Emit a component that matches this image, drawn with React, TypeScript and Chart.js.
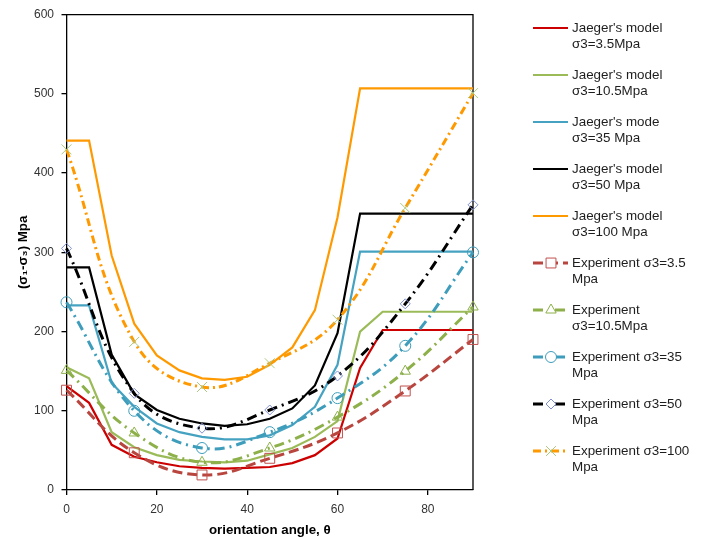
import React, { useEffect, useRef } from 'react';
import { Chart, registerables } from 'chart.js';

Chart.register(...registerables);

// ---------- data ----------
const MODEL_ANGLES = [0, 5, 10, 15, 20, 25, 30, 35, 40, 45, 50, 55, 60, 65, 70, 75, 80, 85, 90];
const JAEGER_3_5 = [131, 110, 57, 42, 35, 30, 28, 27, 28, 29, 34, 44, 65, 154, 202, 202, 202, 202, 202];
const JAEGER_10_5 = [155, 141, 73, 54, 44, 38, 36, 35, 37, 45, 53, 67, 87, 200, 225, 225, 225, 225, 225];
const JAEGER_35 = [233, 233, 135, 105, 84, 73, 67, 64, 64, 69, 82, 105, 158, 301, 301, 301, 301, 301, 301];
const JAEGER_50 = [281, 281, 171, 121, 101, 90, 84, 81, 83, 90, 103, 132, 198, 349, 349, 349, 349, 349, 349];
const JAEGER_100 = [441, 441, 296, 210, 170, 151, 141, 139, 143, 158, 180, 227, 344, 507, 507, 507, 507, 507, 507];

const EXP_ANGLES = [0, 15, 30, 45, 60, 75, 90];
const EXP_3_5 = [126, 47, 19, 40, 72, 125, 190];
const EXP_10_5 = [151, 72, 35, 53, 92, 150, 231];
const EXP_35 = [237, 100, 53, 73, 116, 182, 300];
const EXP_50 = [305, 122, 78, 101, 144, 235, 360];
const EXP_100 = [430, 187, 130, 160, 215, 356, 501];

const X_TICKS = [0, 20, 40, 60, 80];
const Y_TICKS = [0, 100, 200, 300, 400, 500, 600];

const LEGEND_TEXT = [
  ["Jaeger's model", 'σ3=3.5Mpa'],
  ["Jaeger's model", 'σ3=10.5Mpa'],
  ["Jaeger's mode", 'σ3=35 Mpa'],
  ["Jaeger's model", 'σ3=50 Mpa'],
  ["Jaeger's model", 'σ3=100 Mpa'],
  ['Experiment σ3=3.5', 'Mpa'],
  ['Experiment', 'σ3=10.5Mpa'],
  ['Experiment σ3=35', 'Mpa'],
  ['Experiment σ3=50', 'Mpa'],
  ['Experiment σ3=100', 'Mpa'],
];

const X_TITLE = 'orientation angle, θ';
const Y_TITLE = '(σ₁-σ₃) Mpa';

const FONT = "'Liberation Sans', Arial, sans-serif";

// ---------- helpers ----------
function pts(xs: number[], ys: number[]) {
  return xs.map((x, i) => ({ x, y: ys[i] }));
}

function modelSet(idx: number, ys: number[], color: string) {
  return {
    label: LEGEND_TEXT[idx].join(' '),
    legendText: LEGEND_TEXT[idx],
    data: pts(MODEL_ANGLES, ys),
    borderColor: color,
    backgroundColor: color,
    borderWidth: 2.2,
    pointRadius: 0,
    pointHoverRadius: 0,
    tension: 0,
    fill: false,
    clip: false,
    order: 20 - idx,
  };
}

function expSet(
  idx: number,
  ys: number[],
  color: string,
  dash: number[],
  pointStyle: string,
  pointRadius: number,
  markerColor: string
) {
  return {
    label: LEGEND_TEXT[idx].join(' '),
    legendText: LEGEND_TEXT[idx],
    data: pts(EXP_ANGLES, ys),
    borderColor: color,
    backgroundColor: color,
    borderWidth: 3,
    borderDash: dash,
    borderCapStyle: 'butt',
    tension: 0.4,
    pointStyle,
    pointRadius,
    pointHoverRadius: pointRadius,
    pointBorderColor: markerColor,
    pointBackgroundColor: 'rgba(255,255,255,0)',
    pointBorderWidth: 1,
    fill: false,
    clip: false,
    order: 20 - idx,
  };
}

function drawMarker(ctx: CanvasRenderingContext2D, style: string, x: number, y: number, r: number, color: string) {
  ctx.save();
  ctx.setLineDash([]);
  ctx.strokeStyle = color;
  ctx.lineWidth = 1;
  ctx.fillStyle = '#ffffff';
  ctx.beginPath();
  if (style === 'rect') {
    const s = Math.SQRT1_2 * r;
    ctx.rect(x - s, y - s, 2 * s, 2 * s);
    ctx.fill();
    ctx.stroke();
  } else if (style === 'circle') {
    ctx.arc(x, y, r, 0, Math.PI * 2);
    ctx.fill();
    ctx.stroke();
  } else if (style === 'triangle') {
    for (let k = 0; k < 3; k++) {
      const a = (k * 2 * Math.PI) / 3;
      const px = x + Math.sin(a) * r;
      const py = y - Math.cos(a) * r;
      if (k === 0) ctx.moveTo(px, py);
      else ctx.lineTo(px, py);
    }
    ctx.closePath();
    ctx.fill();
    ctx.stroke();
  } else if (style === 'rectRot') {
    ctx.moveTo(x, y - r);
    ctx.lineTo(x + r, y);
    ctx.lineTo(x, y + r);
    ctx.lineTo(x - r, y);
    ctx.closePath();
    ctx.fill();
    ctx.stroke();
  } else if (style === 'crossRot') {
    const s = Math.SQRT1_2 * r;
    ctx.moveTo(x - s, y - s);
    ctx.lineTo(x + s, y + s);
    ctx.moveTo(x + s, y - s);
    ctx.lineTo(x - s, y + s);
    ctx.stroke();
  }
  ctx.restore();
}

const boxPlugin = {
  id: 'plotBox',
  beforeDatasetsDraw(chart: any) {
    const { ctx, chartArea: a } = chart;
    ctx.save();
    ctx.strokeStyle = '#000000';
    ctx.lineWidth = 1.3;
    ctx.beginPath();
    ctx.moveTo(a.left, a.top);
    ctx.lineTo(a.right, a.top);
    ctx.lineTo(a.right, a.bottom);
    ctx.stroke();
    ctx.restore();
  },
};

const legendPlugin = {
  id: 'sideLegend',
  afterDraw(chart: any) {
    const { ctx } = chart;
    const sets = chart.data.datasets;
    const x0 = 533;
    const x1 = 568;
    const tx = 572;
    ctx.save();
    sets.forEach((ds: any, i: number) => {
      const y = 28 + 47 * i;
      ctx.save();
      ctx.strokeStyle = ds.borderColor;
      ctx.lineWidth = ds.borderWidth;
      ctx.lineCap = 'butt';
      ctx.setLineDash(ds.borderDash || []);
      ctx.beginPath();
      ctx.moveTo(x0, y);
      ctx.lineTo(x1, y);
      ctx.stroke();
      ctx.restore();
      if (ds.pointRadius > 0) {
        drawMarker(ctx, ds.pointStyle, 551, y, ds.pointRadius, ds.pointBorderColor);
      }
      ctx.fillStyle = '#1e1e1e';
      ctx.font = `13.4px ${FONT}`;
      ctx.textBaseline = 'middle';
      ctx.textAlign = 'left';
      (ds.legendText as string[]).forEach((line, k) => {
        ctx.fillText(line, tx, y + 16 * k);
      });
    });
    ctx.restore();
  },
};

export default function App() {
  const ref = useRef<HTMLCanvasElement | null>(null);

  useEffect(() => {
    document.body.style.margin = '0';
    const canvas = ref.current;
    if (!canvas) return;

    const datasets: any[] = [
      modelSet(0, JAEGER_3_5, '#cc0000'),
      modelSet(1, JAEGER_10_5, '#9bbb59'),
      modelSet(2, JAEGER_35, '#46a2c1'),
      modelSet(3, JAEGER_50, '#000000'),
      modelSet(4, JAEGER_100, '#ff9900'),
      expSet(5, EXP_3_5, '#b9453f', [10, 5], 'rect', 7, '#c0504d'),
      expSet(6, EXP_10_5, '#8db04a', [10, 5, 2, 5], 'triangle', 6, '#8db04a'),
      expSet(7, EXP_35, '#3e9dbb', [10, 5, 2, 5], 'circle', 5.5, '#3e9dbb'),
      expSet(8, EXP_50, '#000000', [10, 5, 2, 5], 'rectRot', 5, '#7f8fd0'),
      expSet(9, EXP_100, '#ff9900', [8, 4, 2, 4], 'crossRot', 7, '#a9c97f'),
    ];

    const chart = new Chart(canvas, {
      type: 'line',
      data: { datasets },
      plugins: [boxPlugin, legendPlugin],
      options: {
        responsive: false,
        animation: false,
        devicePixelRatio: 1,
        layout: { padding: { left: 0, top: 14, right: 230, bottom: 0 } },
        plugins: {
          legend: { display: false },
          tooltip: { enabled: false },
          title: { display: false },
        },
        scales: {
          x: {
            type: 'linear',
            min: 0,
            max: 90,
            afterBuildTicks: (scale: any) => {
              scale.ticks = X_TICKS.map((v) => ({ value: v }));
            },
            afterFit: (scale: any) => {
              scale.height = 47;
            },
            ticks: {
              font: { family: FONT, size: 12 },
              color: '#333333',
              padding: 7,
              maxRotation: 0,
            },
            grid: {
              drawOnChartArea: false,
              drawTicks: true,
              tickLength: 5,
              color: '#000000',
              lineWidth: 1.3,
            },
            border: { display: true, color: '#000000', width: 1.3 },
            title: {
              display: true,
              text: X_TITLE,
              font: { family: FONT, size: 13.3, weight: 'bold' },
              color: '#000000',
              padding: { top: 0, bottom: -1 },
            },
          },
          y: {
            type: 'linear',
            min: 0,
            max: 600,
            afterBuildTicks: (scale: any) => {
              scale.ticks = Y_TICKS.map((v) => ({ value: v }));
            },
            afterFit: (scale: any) => {
              scale.width = 66.5;
            },
            ticks: {
              font: { family: FONT, size: 12 },
              color: '#333333',
              padding: 7.5,
            },
            grid: {
              drawOnChartArea: false,
              drawTicks: true,
              tickLength: 5,
              color: '#000000',
              lineWidth: 1.3,
            },
            border: { display: true, color: '#000000', width: 1.3 },
            title: {
              display: true,
              text: Y_TITLE,
              font: { family: FONT, size: 13.3, weight: 'bold' },
              color: '#000000',
              padding: { top: 15, bottom: 0 },
            },
          },
        },
      } as any,
    });

    return () => chart.destroy();
  }, []);

  return (
    <div style={{ position: 'absolute', left: 0, top: 0, width: 703, height: 537, background: '#fff' }}>
      <canvas ref={ref} width={703} height={537} style={{ display: 'block', width: 703, height: 537 }} />
    </div>
  );
}
